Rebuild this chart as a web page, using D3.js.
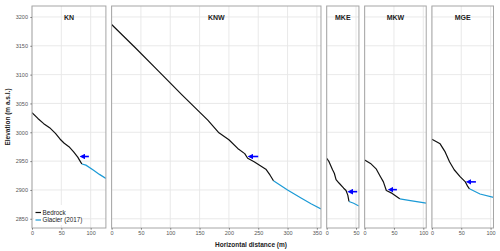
<!DOCTYPE html>
<html>
<head>
<meta charset="utf-8">
<script src="https://cdn.jsdelivr.net/npm/d3@7"></script>
<style>
  body { margin: 0; background: #fff; }
  text { font-family: "Liberation Sans", Arial, sans-serif; }
</style>
</head>
<body>
<div id="chart"></div>
<script>
// panels (sites) and their x extent (m)
var sites = ["KN", "KNW", "MKE", "MKW", "MGE"];
var xMax = [126, 357, 55, 105, 105];
var xTicks = [[0, 50, 100], [0, 50, 100, 150, 200, 250, 300, 350], [0, 50], [0, 50, 100], [0, 50, 100]];
var yTicks = [2850, 2900, 2950, 3000, 3050, 3100, 3150, 3200];

// bedrock profiles [distance, elevation]
var bedKN = [[0,3034],[10,3024],[20,3015],[30,3008],[40,2998],[48,2988],[55,2981],[63,2975],[71,2966],[78,2957],[82,2950],[85,2945]];
var bedKNW = [[0,3187],[40,3147],[80,3106],[120,3065],[164,3021],[183,2999],[200,2987],[215,2972],[227,2963],[232,2955],[243,2949],[263,2936],[270,2926],[276,2916]];
var bedMKE = [[0,2955],[4,2949],[7,2942],[10,2935],[13,2929],[16,2918],[21,2912],[29,2903],[33,2899],[36,2891],[38,2880]];
var bedMKW = [[0,2952],[10,2946],[20,2936],[27,2923],[32,2914],[37,2899],[47,2894],[58,2886],[60,2884.5]];
var bedMGE = [[0,2988],[14,2980],[22,2967],[30,2949],[38,2935],[48,2923],[57,2914],[61,2906],[64,2902]];

// glacier surface 2017
var glaKN = [[85,2945],[92,2943],[105,2934],[115,2927],[126,2920]];
var glaKNW = [[276,2916],[300,2900],[323,2886],[340,2876],[357,2867]];
var glaMKE = [[38,2880],[46,2877],[55,2872]];
var glaMKW = [[60,2884.5],[78,2881.5],[105,2877]];
var glaMGE = [[64,2902],[82,2893],[105,2887]];

// arrows [head x, tail x, elevation]
var arrows = [[83,97,2958],[234,250,2958],[37,52,2897],[41,55,2900.5],[59.5,75,2914]];

var bedrock = [bedKN, bedKNW, bedMKE, bedMKW, bedMGE];
var glacier = [glaKN, glaKNW, glaMKE, glaMKW, glaMGE];

var svgWidth = 500, svgHeight = 251;
var pLeft = 32, pRight = 493.5, pTop = 6, pBottom = 228, gap = 5.7;
var k = (pRight - pLeft - gap * (sites.length - 1)) / d3.sum(xMax);

var svg = d3.select("#chart").append("svg")
  .attr("width", svgWidth)
  .attr("height", svgHeight);

var defs = svg.append("defs");
defs.append("marker")
  .attr("id", "head")
  .attr("viewBox", "0 0 10 10")
  .attr("refX", 2).attr("refY", 5)
  .attr("markerWidth", 3.6).attr("markerHeight", 3.6)
  .attr("orient", "auto-start-reverse")
  .append("path")
  .attr("d", "M0,0 L10,5 L0,10 z")
  .attr("fill", "#0000ff");

var y = d3.scaleLinear().domain([2834, 3219]).range([pBottom, pTop]);

var x0 = pLeft;
sites.forEach(function(site, i) {
  var w = xMax[i] * k;
  var x = d3.scaleLinear().domain([0, xMax[i]]).range([0, w]);
  var g = svg.append("g").attr("transform", `translate(${x0}, 0)`);

  defs.append("clipPath").attr("id", "clip" + i)
    .append("rect").attr("x", 0).attr("y", pTop).attr("width", w).attr("height", pBottom - pTop);

  // grid
  g.selectAll(".gx").data(xTicks[i]).enter().append("line")
    .attr("x1", d => x(d)).attr("x2", d => x(d))
    .attr("y1", pTop).attr("y2", pBottom)
    .attr("stroke", "#e6e6e6").attr("stroke-width", 0.9);
  g.selectAll(".gy").data(yTicks).enter().append("line")
    .attr("x1", 0).attr("x2", w)
    .attr("y1", d => y(d)).attr("y2", d => y(d))
    .attr("stroke", "#e6e6e6").attr("stroke-width", 0.9);

  // x axis
  var xAxis = d3.axisBottom(x).tickValues(xTicks[i]).tickSize(1.5).tickPadding(1.5).tickFormat(d3.format("d"));
  var ax = g.append("g").attr("transform", `translate(0, ${pBottom})`).call(xAxis);
  ax.select(".domain").remove();
  ax.selectAll("line").attr("stroke", "#555");
  ax.selectAll("text").attr("font-size", "5.5px").attr("fill", "#555");

  if (i == 0) {
    var yAxis = d3.axisLeft(y).tickValues(yTicks).tickSize(1.5).tickPadding(2.5).tickFormat(d3.format("d"));
    var ay = g.append("g").call(yAxis);
    ay.select(".domain").remove();
    ay.selectAll("line").attr("stroke", "#555");
    ay.selectAll("text").attr("font-size", "5.5px").attr("fill", "#555");
  }

  var line = d3.line().x(d => x(d[0])).y(d => y(d[1]));
  var lines = g.append("g").attr("clip-path", `url(#clip${i})`);
  lines.append("path").datum(glacier[i])
    .attr("d", line).attr("fill", "none")
    .attr("stroke", "#1b9ad6").attr("stroke-width", 1.2);
  lines.append("path").datum(bedrock[i])
    .attr("d", line).attr("fill", "none")
    .attr("stroke", "#111").attr("stroke-width", 1.2)
    .attr("stroke-linejoin", "round");

  // arrow
  var a = arrows[i];
  g.append("line")
    .attr("x1", x(a[1])).attr("x2", x(a[0]) + 3.5)
    .attr("y1", y(a[2])).attr("y2", y(a[2]))
    .attr("stroke", "#0000ff").attr("stroke-width", 1.6)
    .attr("marker-end", "url(#head)");

  // legend in first panel
  if (i == 0) {
    var lg = g.append("g");
    lg.append("rect").attr("x", 2).attr("y", 205).attr("width", 48).attr("height", 20).attr("fill", "#fff");
    [["Bedrock", "#111"], ["Glacier (2017)", "#1b9ad6"]].forEach(function(item, j) {
      var yy = 212.5 + j * 7.5;
      lg.append("line").attr("x1", 3.5).attr("x2", 9).attr("y1", yy).attr("y2", yy)
        .attr("stroke", item[1]).attr("stroke-width", 1.2);
      lg.append("text").attr("x", 10.5).attr("y", yy + 2.2)
        .attr("font-size", "6.3px").attr("fill", "#222").text(item[0]);
    });
  }

  // panel title
  g.append("text").attr("x", w / 2).attr("y", 19.5)
    .attr("text-anchor", "middle").attr("font-size", "7px").attr("font-weight", "bold")
    .attr("fill", "#222").text(site);

  // border
  g.append("rect").attr("x", 0).attr("y", pTop).attr("width", w).attr("height", pBottom - pTop)
    .attr("fill", "none").attr("stroke", "#a6a6a6").attr("stroke-width", 1);

  x0 += w + gap;
});

svg.append("text")
  .attr("transform", "translate(9.5, 117) rotate(-90)")
  .attr("text-anchor", "middle").attr("font-size", "6.5px").attr("font-weight", "bold")
  .attr("fill", "#222").text("Elevation (m a.s.l.)");

svg.append("text")
  .attr("x", 251).attr("y", 246.5)
  .attr("text-anchor", "middle").attr("font-size", "6.5px").attr("font-weight", "bold")
  .attr("fill", "#222").text("Horizontal distance (m)");
</script>
</body>
</html>
